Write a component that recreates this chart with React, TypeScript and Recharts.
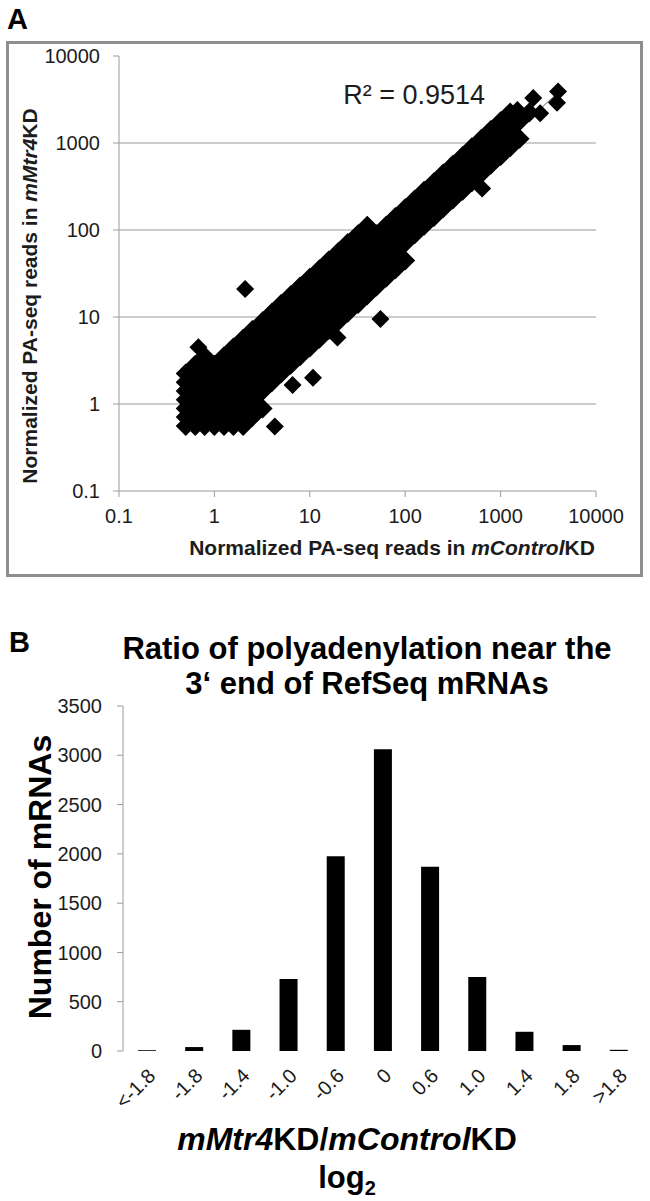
import React from "react";
import {
  Bar,
  BarChart,
  ReferenceLine,
  Scatter,
  ScatterChart,
  XAxis,
  YAxis,
} from "recharts";

const FONT = "'Liberation Sans', Arial, Helvetica, sans-serif";
const AXIS_GRAY = "#9a9a9a";
const INK = "#1c1c1c";

// ---- panel A: PA-seq reads, log-log scatter ----
const logTicks = [0.1, 1, 10, 100, 1000, 10000];
const gridValues = [1, 10, 100, 1000];

// the dense cloud, read row by row (mMtr4KD level -> mControlKD levels)
const cloudRows: { y: number; xs: number[] }[] = [
  { y: 0.56, xs: [0.5, 0.63, 0.79, 1, 1.26, 1.58, 2.0] },
  { y: 0.71, xs: [0.5, 0.63, 1, 1.58, 2.5] },
  { y: 0.89, xs: [0.5, 0.79, 1.26, 2.0, 3.2] },
  { y: 1.12, xs: [0.5, 0.63, 1, 1.58, 2.5] },
  { y: 1.41, xs: [0.5, 0.79, 1.26, 2.0, 3.2] },
  { y: 1.78, xs: [0.5, 0.63, 1, 1.58, 2.5, 4.0] },
  { y: 2.24, xs: [0.5, 0.79, 1.26, 2.0, 3.2, 5.0] },
  { y: 2.82, xs: [0.63, 1, 1.58, 2.5, 4.0, 6.3] },
  { y: 3.55, xs: [0.79, 1.26, 2.0, 3.2, 5.0, 7.9] },
  { y: 4.47, xs: [1.58, 2.5, 4.0, 6.3, 10] },
  { y: 5.62, xs: [2.0, 3.2, 5.0, 7.9, 12.6] },
  { y: 7.08, xs: [2.5, 4.0, 6.3, 10, 15.8] },
  { y: 8.91, xs: [3.2, 5.0, 7.9, 12.6, 20] },
  { y: 11.2, xs: [4.0, 6.3, 10, 15.8, 25] },
  { y: 14.1, xs: [5.0, 7.9, 12.6, 20, 32] },
  { y: 17.8, xs: [6.3, 10, 15.8, 25, 40] },
  { y: 22.4, xs: [7.9, 12.6, 20, 32, 50] },
  { y: 28.2, xs: [10, 15.8, 25, 40, 63] },
  { y: 35.5, xs: [12.6, 20, 32, 50, 79] },
  { y: 44.7, xs: [15.8, 25, 40, 63, 100] },
  { y: 56.2, xs: [20, 32, 50, 79] },
  { y: 70.8, xs: [25, 40, 63, 100] },
  { y: 89.1, xs: [32, 50, 79, 126] },
  { y: 112, xs: [40, 63, 100, 158] },
  { y: 141, xs: [79, 126, 200] },
  { y: 178, xs: [100, 158, 250] },
  { y: 224, xs: [126, 200, 316] },
  { y: 282, xs: [158, 250, 400] },
  { y: 355, xs: [200, 316, 500] },
  { y: 447, xs: [250, 400, 630] },
  { y: 562, xs: [316, 500, 790] },
  { y: 708, xs: [400, 630, 1000] },
  { y: 891, xs: [500, 790, 1260] },
  { y: 1122, xs: [630, 1000, 1580] },
  { y: 1413, xs: [790, 1260] },
  { y: 1778, xs: [1000, 1580] },
  { y: 2239, xs: [1260, 2000] },
];

// single points standing clear of the cloud
const topPoints: [number, number][] = [
  [2200, 3300],
  [4000, 3900],
  [3900, 2900],
  [2600, 2200],
  [1500, 2400],
];

const outliers: [number, number][] = [
  [2.1, 21],
  [0.68, 4.5],
  [4.3, 0.55],
  [10.8, 2.0],
  [55, 9.5],
  [640, 300],
  [6.6, 1.65],
  [19.5, 5.8],
];

const trendPoints: [number, number][] = [
  [1, 0.95],
  [3900, 3700],
];

const cloudData = cloudRows.flatMap((row) => row.xs.map((x) => ({ x, y: row.y })));
const singleData = [...topPoints, ...outliers].map(([x, y]) => ({ x, y }));
const trendData = trendPoints.map(([x, y]) => ({ x, y }));

// ---- panel B: histogram of log2 ratios ----
const binLabels = ["<-1.8", "-1.8", "-1.4", "-1.0", "-0.6", "0", "0.6", "1.0", "1.4", "1.8", ">1.8"];
const mrnaCounts = [8, 40, 215, 730, 1975, 3060, 1870, 750, 195, 60, 12];
const countTicks = [0, 500, 1000, 1500, 2000, 2500, 3000, 3500];
const binEdges = [0, 1, 2, 3, 4, 5, 6, 7, 8, 9, 10, 11];

const histData = binLabels.map((label, i) => ({ label, count: mrnaCounts[i] }));

function makeDiamond(half: number) {
  return function Diamond(props: any) {
    const { cx, cy } = props;
    if (cx == null || cy == null) return null;
    return (
      <polygon
        points={`${cx},${cy - half} ${cx + half},${cy} ${cx},${cy + half} ${cx - half},${cy}`}
        fill="#000"
      />
    );
  };
}

const CloudDiamond = makeDiamond(10);
const PointDiamond = makeDiamond(9);

function BinTick(props: any) {
  const { x, y, payload } = props;
  const px = x + 10;
  const py = y + 26;
  return (
    <text
      x={px}
      y={py}
      transform={`rotate(-45, ${px}, ${py})`}
      textAnchor="end"
      fontSize={20}
      fontFamily={FONT}
      fill={INK}
    >
      {payload.value}
    </text>
  );
}

const tickStyle = { fill: INK, fontSize: 20, fontFamily: FONT };

export default function App() {
  return (
    <div style={{ position: "absolute", left: 0, top: 0, width: 650, height: 1201, background: "#fff", fontFamily: FONT }}>
      <div
        style={{
          position: "absolute",
          left: 6,
          top: 41,
          width: 637,
          height: 536,
          border: "3px solid #8e8e8e",
          boxSizing: "border-box",
        }}
      />
      <div style={{ position: "absolute", left: 0, top: 0 }}>
        <ScatterChart width={650} height={600} margin={{ top: 56, right: 54, bottom: 49, left: 0 }}>
          <XAxis
            type="number"
            dataKey="x"
            scale="log"
            domain={[0.1, 10000]}
            ticks={logTicks}
            allowDataOverflow
            height={60}
            tickSize={6}
            tickMargin={12}
            stroke={AXIS_GRAY}
            tick={tickStyle}
          />
          <YAxis
            type="number"
            dataKey="y"
            scale="log"
            domain={[0.1, 10000]}
            ticks={logTicks}
            allowDataOverflow
            width={119}
            tickSize={6}
            tickMargin={13}
            stroke={AXIS_GRAY}
            tick={tickStyle}
          />
          {gridValues.map((v) => (
            <ReferenceLine key={v} y={v} stroke={AXIS_GRAY} strokeWidth={1} />
          ))}
          <Scatter
            data={trendData}
            line={{ stroke: "#666", strokeWidth: 1 }}
            shape={() => <g />}
            isAnimationActive={false}
          />
          <Scatter data={cloudData} shape={CloudDiamond} isAnimationActive={false} />
          <Scatter data={singleData} shape={PointDiamond} isAnimationActive={false} />
          <text x={7} y={29} fontSize={29} fontWeight="bold" fontFamily={FONT} fill="#000">
            A
          </text>
          <text x={485} y={104} textAnchor="end" fontSize={27} fontFamily={FONT} fill={INK}>
            R² = 0.9514
          </text>
          <text x={392} y={555} textAnchor="middle" fontSize={21} fontWeight="bold" fontFamily={FONT} fill={INK}>
            Normalized PA-seq reads in <tspan fontStyle="italic">mControl</tspan>KD
          </text>
          <text
            transform="translate(37, 296) rotate(-90)"
            textAnchor="middle"
            fontSize={21}
            fontWeight="bold"
            fontFamily={FONT}
            fill={INK}
          >
            Normalized PA-seq reads in <tspan fontStyle="italic">mMtr4</tspan>KD
          </text>
        </ScatterChart>
      </div>

      <div style={{ position: "absolute", left: 0, top: 600 }}>
        <BarChart
          width={650}
          height={601}
          data={histData}
          margin={{ top: 106, right: 8, bottom: 90, left: 0 }}
        >
          <XAxis
            xAxisId="edge"
            type="number"
            domain={[0, 11]}
            ticks={binEdges}
            allowDataOverflow
            height={0}
            tick={false}
            tickSize={7}
            stroke={AXIS_GRAY}
          />
          <XAxis
            xAxisId="band"
            dataKey="label"
            type="category"
            height={60}
            axisLine={false}
            tickLine={false}
            tickSize={0}
            tickMargin={0}
            interval={0}
            tick={<BinTick />}
          />
          <YAxis
            type="number"
            domain={[0, 3500]}
            ticks={countTicks}
            width={123}
            tickSize={6}
            tickMargin={15}
            stroke={AXIS_GRAY}
            tick={tickStyle}
          />
          <Bar xAxisId="band" dataKey="count" fill="#000" barSize={18} isAnimationActive={false} />
          <text x={9} y={52} fontSize={29} fontWeight="bold" fontFamily={FONT} fill="#000">
            B
          </text>
          <text x={367} y={59} textAnchor="middle" fontSize={31} fontWeight="bold" fontFamily={FONT} fill="#000">
            Ratio of polyadenylation near the
          </text>
          <text x={367} y={94} textAnchor="middle" fontSize={31} fontWeight="bold" fontFamily={FONT} fill="#000">
            3‘ end of RefSeq mRNAs
          </text>
          <text
            transform="translate(51, 277) rotate(-90)"
            textAnchor="middle"
            fontSize={32}
            fontWeight="bold"
            fontFamily={FONT}
            fill="#000"
          >
            Number of mRNAs
          </text>
          <text x={347} y={550} textAnchor="middle" fontSize={32} fontWeight="bold" fontFamily={FONT} fill="#000">
            <tspan fontStyle="italic">mMtr4</tspan>KD/<tspan fontStyle="italic">mControl</tspan>KD
          </text>
          <text x={347} y={588} textAnchor="middle" fontSize={31} fontWeight="bold" fontFamily={FONT} fill="#000">
            log<tspan fontSize={20} dy={7}>2</tspan>
          </text>
        </BarChart>
      </div>
    </div>
  );
}
